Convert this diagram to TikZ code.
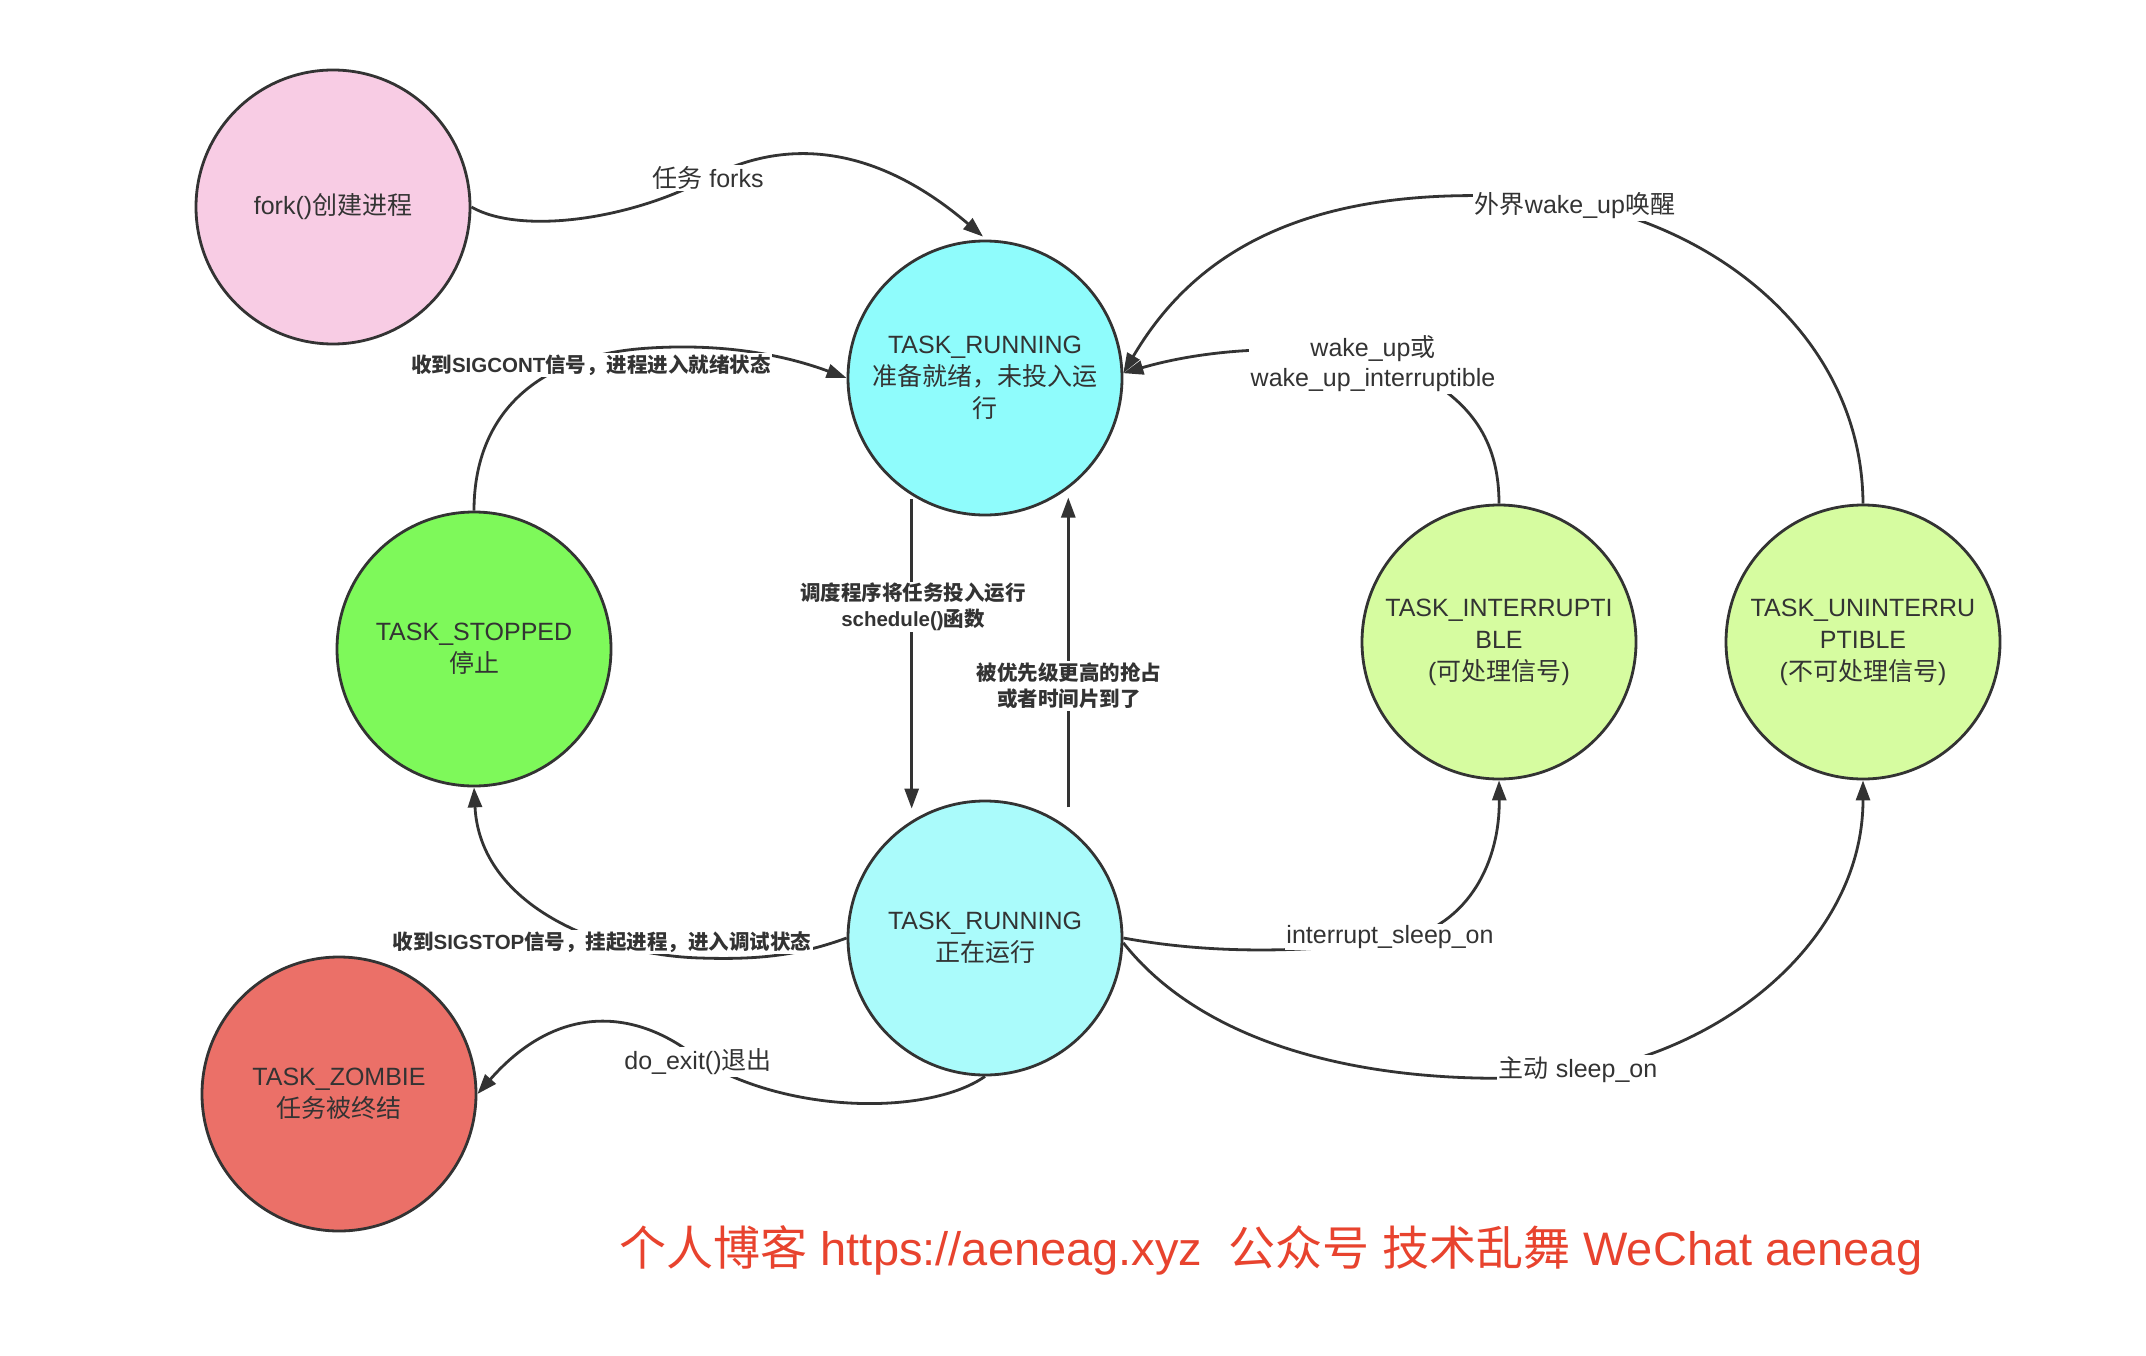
\documentclass[tikz,border=0pt]{standalone}
\usepackage{fontspec}
\setmainfont{Liberation Sans}
\newfontfamily\cjk{Noto Sans CJK SC}
\usetikzlibrary{arrows.meta}
\newcommand\zh[1]{{\cjk #1}}
\definecolor{lc}{HTML}{333333}
\definecolor{cfork}{HTML}{F8CCE4}
\definecolor{crunA}{HTML}{8FFCFC}
\definecolor{crunB}{HTML}{AAFBFB}
\definecolor{cstop}{HTML}{7EF95A}
\definecolor{csleep}{HTML}{D6FCA0}
\definecolor{czomb}{HTML}{EB7068}
\definecolor{cfoot}{HTML}{E8432E}
\begin{document}
\begin{tikzpicture}[x=1pt,y=-1pt,
  state/.style={circle, draw=lc, line width=2.8pt, minimum size=274pt, inner sep=0pt,
    align=center, text=lc, font=\fontsize{25}{32}\selectfont},
  lbl/.style={fill=white, inner sep=1.5pt, text=lc, align=center, font=\fontsize{25}{30}\selectfont},
  slbl/.style={fill=white, inner sep=1.5pt, text=lc, align=center, font=\fontsize{20.5}{26}\selectfont\bfseries},
  wire/.style={draw=lc, line width=2.8pt},
  arr/.style={wire, -{Triangle[length=20pt,width=14pt]}}]
\fill[white] (0,0) rectangle (2146,1356);
\useasboundingbox (0,0) rectangle (2146,1356);

% states
\node[state, fill=cfork]  (fork)    at (333,207)  {fork()\zh{创建进程}};
\node[state, fill=crunA]  (run1)    at (985,378)  {TASK\_RUNNING\\\zh{准备就绪，未投入运}\\\zh{行}};
\node[state, fill=cstop]  (stopped) at (474,649)  {TASK\_STOPPED\\\zh{停止}};
\node[state, fill=csleep] (intr)    at (1499,642) {TASK\_INTERRUPTI\\BLE\\(\zh{可处理信号})};
\node[state, fill=csleep] (unint)   at (1863,642) {TASK\_UNINTERRU\\PTIBLE\\(\zh{不可处理信号})};
\node[state, fill=crunB]  (run2)    at (985,938)  {TASK\_RUNNING\\\zh{正在运行}};
\node[state, fill=czomb]  (zombie)  at (339,1094) {TASK\_ZOMBIE\\\zh{任务被终结}};

% connectors
\draw[arr] (fork.east) .. controls (520,235) and (630,220) .. (708,178)
  .. controls (780,140) and (870,140) .. ([shift={(-2,-3)}]run1.north);
\draw[arr] (stopped.north) .. controls (474,420) and (530,355) .. (650,348)
  .. controls (730,343) and (790,357) .. (run1.west);
\draw[arr] (unint.north) .. controls (1862,340) and (1720,225) .. (1560,200)
  .. controls (1300,175) and (1190,260) .. (run1.2);
\draw[arr] (intr.north) .. controls (1499,445) and (1475,405) .. (1420,375)
  .. controls (1340,340) and (1220,345) .. (run1.2);
\draw[arr, shorten <=4pt, shorten >=12pt] (run1.238) -- (run2.122);
\draw[arr, shorten <=20pt, shorten >=9pt] (run2.53) -- (run1.307);
\draw[arr] (run2.west) .. controls (800,955) and (760,960) .. (700,958)
  .. controls (600,955) and (480,905) .. (stopped.south);
\draw[arr] (run2.south) .. controls (930,1115) and (790,1115) .. (700,1060)
  .. controls (640,1010) and (560,1000) .. (zombie.east);
\draw[arr] (run2.east) .. controls (1200,952) and (1290,955) .. (1400,940)
  .. controls (1470,925) and (1500,860) .. (intr.south);
\draw[arr] (run2.358) .. controls (1200,1040) and (1350,1082) .. (1520,1078)
  .. controls (1700,1075) and (1863,950) .. (unint.south);

% labels
\node[lbl]  (lfork)  at (708,178)  {\zh{任务} forks};
\node[slbl] (lcont)  at (591,365)  {\zh{收到}SIGCONT\zh{信号，进程进入就绪状态}};
\node[lbl]  (lwext)  at (1575,206) {\zh{外界}wake\_up\zh{唤醒}};
\node[lbl]  (lwake)  at (1373,364) {wake\_up\zh{或}\\wake\_up\_interruptible};
\node[slbl] (lsched) at (913,607)  {\zh{调度程序将任务投入运行}\\schedule()\zh{函数}};
\node[slbl] (lpre)   at (1069,686) {\zh{被优先级更高的抢占}\\\zh{或者时间片到了}};
\node[slbl] (lstop)  at (602,942)  {\zh{收到}SIGSTOP\zh{信号，挂起进程，进入调试状态}};
\node[lbl]  (lexit)  at (698,1062) {do\_exit()\zh{退出}};
\node[lbl]  (lisl)   at (1390,937) {interrupt\_sleep\_on};
\node[lbl]  (lsl)    at (1578,1070) {\zh{主动} sleep\_on};

% footer
\node[text=cfoot, inner sep=0pt, font=\fontsize{47}{50}\selectfont] (footer) at (1271,1250)
  {\zh{个人博客} https://aeneag.xyz\ \ \zh{公众号} \zh{技术乱舞} WeChat aeneag};
\end{tikzpicture}
\end{document}
